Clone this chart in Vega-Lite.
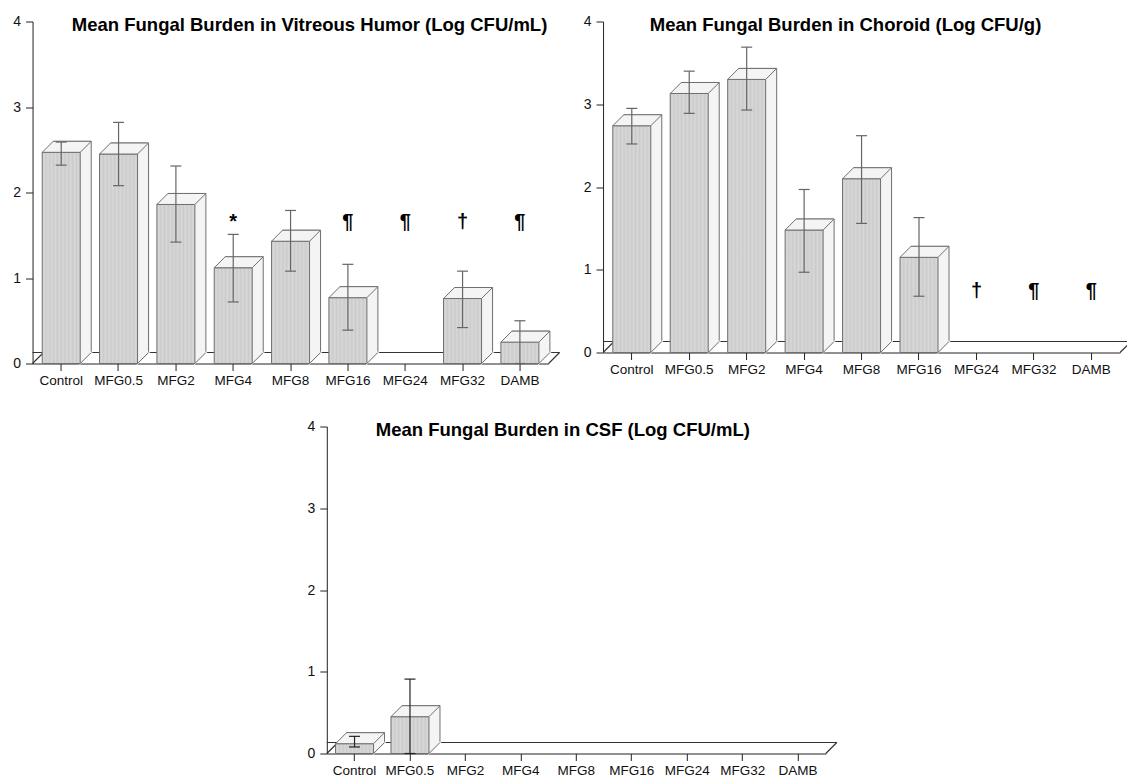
{
  "$schema": "https://vega.github.io/schema/vega-lite/v6.json",
  "padding": {"left": 12.5, "top": 14.5, "right": 0, "bottom": 0},
  "background": "#ffffff",
  "center": true,
  "spacing": 32,
  "config": {
    "view": {"stroke": null},
    "font": "Liberation Sans",
    "axis": {"labelFont": "Liberation Sans", "labelColor": "#111111", "domainColor": "#222222", "tickColor": "#222222", "grid": false},
    "axisX": {"labelAngle": 0, "labelFontSize": 13.5, "labelPadding": 3, "tickSize": 7},
    "axisY": {"labelFontSize": 14, "labelPadding": 5, "tickSize": 7, "tickCount": 4, "format": "d"},
    "scale": {"bandPaddingInner": 0.34, "bandPaddingOuter": 0.17},
    "title": {"font": "Liberation Sans", "fontSize": 18.5, "fontWeight": "bold", "color": "#000000", "anchor": "middle", "baseline": "alphabetic"}
  },
  "datasets": {
    "vit": [
      {"group": "Control", "mean": 2.47, "lo": 2.32, "hi": 2.59},
      {"group": "MFG0.5", "mean": 2.45, "lo": 2.08, "hi": 2.82},
      {"group": "MFG2", "mean": 1.86, "lo": 1.42, "hi": 2.31},
      {"group": "MFG4", "mean": 1.12, "lo": 0.72, "hi": 1.51, "sig": "*"},
      {"group": "MFG8", "mean": 1.43, "lo": 1.08, "hi": 1.79},
      {"group": "MFG16", "mean": 0.77, "lo": 0.39, "hi": 1.16, "sig": "¶"},
      {"group": "MFG24", "mean": 0, "sig": "¶"},
      {"group": "MFG32", "mean": 0.76, "lo": 0.42, "hi": 1.08, "sig": "†"},
      {"group": "DAMB", "mean": 0.25, "lo": 0, "hi": 0.5, "sig": "¶"}
    ],
    "cho": [
      {"group": "Control", "mean": 2.74, "lo": 2.52, "hi": 2.95},
      {"group": "MFG0.5", "mean": 3.13, "lo": 2.89, "hi": 3.40},
      {"group": "MFG2", "mean": 3.30, "lo": 2.93, "hi": 3.69},
      {"group": "MFG4", "mean": 1.48, "lo": 0.97, "hi": 1.97},
      {"group": "MFG8", "mean": 2.10, "lo": 1.56, "hi": 2.62},
      {"group": "MFG16", "mean": 1.15, "lo": 0.68, "hi": 1.63},
      {"group": "MFG24", "mean": 0, "sig": "†"},
      {"group": "MFG32", "mean": 0, "sig": "¶"},
      {"group": "DAMB", "mean": 0, "sig": "¶"}
    ],
    "csf": [
      {"group": "Control", "mean": 0.12, "lo": 0.08, "hi": 0.21},
      {"group": "MFG0.5", "mean": 0.45, "lo": 0, "hi": 0.91},
      {"group": "MFG2", "mean": 0},
      {"group": "MFG4", "mean": 0},
      {"group": "MFG8", "mean": 0},
      {"group": "MFG16", "mean": 0},
      {"group": "MFG24", "mean": 0},
      {"group": "MFG32", "mean": 0},
      {"group": "DAMB", "mean": 0}
    ]
  },
  "vconcat": [
    {
      "hconcat": [
        {
          "width": 516, "height": 342,
          "data": {"name": "vit"},
          "title": {"text": "Mean Fungal Burden in Vitreous Humor (Log CFU/mL)", "dx": 19, "offset": -19.5},
          "layer": [
            {"transform": [{"filter": "datum.group === 'Control'"}], "mark": {"type": "rule", "color": "#333333", "strokeWidth": 1.2, "xOffset": 11, "x2Offset": 11, "yOffset": -11}, "encoding": {"y": {"datum": 0, "type": "quantitative", "title": null, "scale": {"domain": [0, 4], "nice": false}}}},
            {"transform": [{"filter": "datum.group === 'Control'"}], "mark": {"type": "point", "shape": "M-28.7,0L-17.7,-11", "size": 4, "filled": false, "color": "#333333", "strokeWidth": 1.2, "opacity": 1}, "encoding": {"x": {"field": "group", "type": "nominal", "title": null, "scale": {"domain": ["Control", "MFG0.5", "MFG2", "MFG4", "MFG8", "MFG16", "MFG24", "MFG32", "DAMB"]}}, "y": {"datum": 0, "type": "quantitative", "title": null}}},
            {"transform": [{"filter": "datum.group === 'DAMB'"}], "mark": {"type": "point", "shape": "M28.7,0L39.7,-11", "size": 4, "filled": false, "color": "#333333", "strokeWidth": 1.2, "opacity": 1}, "encoding": {"x": {"field": "group", "type": "nominal", "title": null, "scale": {"domain": ["Control", "MFG0.5", "MFG2", "MFG4", "MFG8", "MFG16", "MFG24", "MFG32", "DAMB"]}}, "y": {"datum": 0, "type": "quantitative", "title": null}}},
            {"transform": [{"filter": "datum.mean > 0"}], "mark": {"type": "bar", "width": 38, "xOffset": 11, "yOffset": -11, "y2Offset": -11, "fill": "#f4f4f4", "stroke": "#707070", "strokeWidth": 1}, "encoding": {"x": {"field": "group", "type": "nominal", "title": null, "scale": {"domain": ["Control", "MFG0.5", "MFG2", "MFG4", "MFG8", "MFG16", "MFG24", "MFG32", "DAMB"]}}, "y": {"field": "mean", "type": "quantitative", "title": null}, "y2": {"datum": 0}}},
            {"transform": [{"filter": "datum.mean > 0"}], "mark": {"type": "point", "shape": "M19,0L30,-11L19,-11Z", "size": 4, "filled": true, "fill": "#f4f4f4", "stroke": "#f4f4f4", "strokeWidth": 1.6, "opacity": 1}, "encoding": {"x": {"field": "group", "type": "nominal", "title": null, "scale": {"domain": ["Control", "MFG0.5", "MFG2", "MFG4", "MFG8", "MFG16", "MFG24", "MFG32", "DAMB"]}}, "y": {"datum": 0, "type": "quantitative", "title": null}}},
            {"transform": [{"filter": "datum.mean > 0"}], "mark": {"type": "bar", "width": 38, "stroke": "#707070", "strokeWidth": 1, "fill": {"gradient": "linear", "x1": 0, "x2": 1, "y1": 0, "y2": 0, "stops": [{"offset": 0, "color": "#cbcbcb"}, {"offset": 0.05, "color": "#d8d8d8"}, {"offset": 0.1, "color": "#cbcbcb"}, {"offset": 0.15, "color": "#d8d8d8"}, {"offset": 0.2, "color": "#cbcbcb"}, {"offset": 0.25, "color": "#d8d8d8"}, {"offset": 0.3, "color": "#cbcbcb"}, {"offset": 0.35, "color": "#d8d8d8"}, {"offset": 0.4, "color": "#cbcbcb"}, {"offset": 0.45, "color": "#d8d8d8"}, {"offset": 0.5, "color": "#cbcbcb"}, {"offset": 0.55, "color": "#d8d8d8"}, {"offset": 0.6, "color": "#cbcbcb"}, {"offset": 0.65, "color": "#d8d8d8"}, {"offset": 0.7, "color": "#cbcbcb"}, {"offset": 0.75, "color": "#d8d8d8"}, {"offset": 0.8, "color": "#cbcbcb"}, {"offset": 0.85, "color": "#d8d8d8"}, {"offset": 0.9, "color": "#cbcbcb"}, {"offset": 0.95, "color": "#d8d8d8"}, {"offset": 1, "color": "#cbcbcb"}]}}, "encoding": {"x": {"field": "group", "type": "nominal", "title": null, "scale": {"domain": ["Control", "MFG0.5", "MFG2", "MFG4", "MFG8", "MFG16", "MFG24", "MFG32", "DAMB"]}}, "y": {"field": "mean", "type": "quantitative", "title": null}, "y2": {"datum": 0}}},
            {"transform": [{"filter": "datum.mean > 0"}], "mark": {"type": "point", "shape": "M-19,0L19,0L30,-11L-8,-11Z", "size": 4, "filled": true, "fill": "#f4f4f4", "stroke": "#707070", "strokeWidth": 1, "opacity": 1}, "encoding": {"x": {"field": "group", "type": "nominal", "title": null, "scale": {"domain": ["Control", "MFG0.5", "MFG2", "MFG4", "MFG8", "MFG16", "MFG24", "MFG32", "DAMB"]}}, "y": {"field": "mean", "type": "quantitative", "title": null}}},
            {"transform": [{"filter": "datum.mean > 0"}], "mark": {"type": "point", "shape": "M19,0L30,-11", "size": 4, "filled": false, "color": "#707070", "strokeWidth": 1, "opacity": 1}, "encoding": {"x": {"field": "group", "type": "nominal", "title": null, "scale": {"domain": ["Control", "MFG0.5", "MFG2", "MFG4", "MFG8", "MFG16", "MFG24", "MFG32", "DAMB"]}}, "y": {"datum": 0, "type": "quantitative", "title": null}}},
            {"transform": [{"filter": "isValid(datum.lo)"}], "mark": {"type": "rule", "color": "#666666", "strokeWidth": 1.2}, "encoding": {"x": {"field": "group", "type": "nominal", "title": null, "scale": {"domain": ["Control", "MFG0.5", "MFG2", "MFG4", "MFG8", "MFG16", "MFG24", "MFG32", "DAMB"]}}, "y": {"field": "lo", "type": "quantitative", "title": null}, "y2": {"field": "hi"}}},
            {"transform": [{"filter": "isValid(datum.lo)"}], "mark": {"type": "tick", "color": "#666666", "size": 11, "thickness": 1.2, "opacity": 1}, "encoding": {"x": {"field": "group", "type": "nominal", "title": null, "scale": {"domain": ["Control", "MFG0.5", "MFG2", "MFG4", "MFG8", "MFG16", "MFG24", "MFG32", "DAMB"]}}, "y": {"field": "lo", "type": "quantitative", "title": null}}},
            {"transform": [{"filter": "isValid(datum.hi)"}], "mark": {"type": "tick", "color": "#666666", "size": 11, "thickness": 1.2, "opacity": 1}, "encoding": {"x": {"field": "group", "type": "nominal", "title": null, "scale": {"domain": ["Control", "MFG0.5", "MFG2", "MFG4", "MFG8", "MFG16", "MFG24", "MFG32", "DAMB"]}}, "y": {"field": "hi", "type": "quantitative", "title": null}}},
            {"transform": [{"filter": "isValid(datum.sig)"}], "mark": {"type": "text", "fontSize": 20, "font": "Liberation Sans", "fontWeight": "bold", "baseline": "alphabetic", "color": "#000000"}, "encoding": {"x": {"field": "group", "type": "nominal", "title": null, "scale": {"domain": ["Control", "MFG0.5", "MFG2", "MFG4", "MFG8", "MFG16", "MFG24", "MFG32", "DAMB"]}}, "y": {"datum": 1.58, "type": "quantitative", "title": null}, "text": {"field": "sig"}}}
          ]
        },
        {
          "width": 517, "height": 331,
          "data": {"name": "cho"},
          "title": {"text": "Mean Fungal Burden in Choroid (Log CFU/g)", "dx": -16, "offset": -19.5},
          "layer": [
            {"transform": [{"filter": "datum.group === 'Control'"}], "mark": {"type": "rule", "color": "#333333", "strokeWidth": 1.2, "xOffset": 11, "x2Offset": 11, "yOffset": -11}, "encoding": {"y": {"datum": 0, "type": "quantitative", "title": null, "scale": {"domain": [0, 4], "nice": false}}}},
            {"transform": [{"filter": "datum.group === 'Control'"}], "mark": {"type": "point", "shape": "M-28.7,0L-17.7,-11", "size": 4, "filled": false, "color": "#333333", "strokeWidth": 1.2, "opacity": 1}, "encoding": {"x": {"field": "group", "type": "nominal", "title": null, "scale": {"domain": ["Control", "MFG0.5", "MFG2", "MFG4", "MFG8", "MFG16", "MFG24", "MFG32", "DAMB"]}}, "y": {"datum": 0, "type": "quantitative", "title": null}}},
            {"transform": [{"filter": "datum.group === 'DAMB'"}], "mark": {"type": "point", "shape": "M28.7,0L39.7,-11", "size": 4, "filled": false, "color": "#333333", "strokeWidth": 1.2, "opacity": 1}, "encoding": {"x": {"field": "group", "type": "nominal", "title": null, "scale": {"domain": ["Control", "MFG0.5", "MFG2", "MFG4", "MFG8", "MFG16", "MFG24", "MFG32", "DAMB"]}}, "y": {"datum": 0, "type": "quantitative", "title": null}}},
            {"transform": [{"filter": "datum.mean > 0"}], "mark": {"type": "bar", "width": 38, "xOffset": 11, "yOffset": -11, "y2Offset": -11, "fill": "#f4f4f4", "stroke": "#707070", "strokeWidth": 1}, "encoding": {"x": {"field": "group", "type": "nominal", "title": null, "scale": {"domain": ["Control", "MFG0.5", "MFG2", "MFG4", "MFG8", "MFG16", "MFG24", "MFG32", "DAMB"]}}, "y": {"field": "mean", "type": "quantitative", "title": null}, "y2": {"datum": 0}}},
            {"transform": [{"filter": "datum.mean > 0"}], "mark": {"type": "point", "shape": "M19,0L30,-11L19,-11Z", "size": 4, "filled": true, "fill": "#f4f4f4", "stroke": "#f4f4f4", "strokeWidth": 1.6, "opacity": 1}, "encoding": {"x": {"field": "group", "type": "nominal", "title": null, "scale": {"domain": ["Control", "MFG0.5", "MFG2", "MFG4", "MFG8", "MFG16", "MFG24", "MFG32", "DAMB"]}}, "y": {"datum": 0, "type": "quantitative", "title": null}}},
            {"transform": [{"filter": "datum.mean > 0"}], "mark": {"type": "bar", "width": 38, "stroke": "#707070", "strokeWidth": 1, "fill": {"gradient": "linear", "x1": 0, "x2": 1, "y1": 0, "y2": 0, "stops": [{"offset": 0, "color": "#cbcbcb"}, {"offset": 0.05, "color": "#d8d8d8"}, {"offset": 0.1, "color": "#cbcbcb"}, {"offset": 0.15, "color": "#d8d8d8"}, {"offset": 0.2, "color": "#cbcbcb"}, {"offset": 0.25, "color": "#d8d8d8"}, {"offset": 0.3, "color": "#cbcbcb"}, {"offset": 0.35, "color": "#d8d8d8"}, {"offset": 0.4, "color": "#cbcbcb"}, {"offset": 0.45, "color": "#d8d8d8"}, {"offset": 0.5, "color": "#cbcbcb"}, {"offset": 0.55, "color": "#d8d8d8"}, {"offset": 0.6, "color": "#cbcbcb"}, {"offset": 0.65, "color": "#d8d8d8"}, {"offset": 0.7, "color": "#cbcbcb"}, {"offset": 0.75, "color": "#d8d8d8"}, {"offset": 0.8, "color": "#cbcbcb"}, {"offset": 0.85, "color": "#d8d8d8"}, {"offset": 0.9, "color": "#cbcbcb"}, {"offset": 0.95, "color": "#d8d8d8"}, {"offset": 1, "color": "#cbcbcb"}]}}, "encoding": {"x": {"field": "group", "type": "nominal", "title": null, "scale": {"domain": ["Control", "MFG0.5", "MFG2", "MFG4", "MFG8", "MFG16", "MFG24", "MFG32", "DAMB"]}}, "y": {"field": "mean", "type": "quantitative", "title": null}, "y2": {"datum": 0}}},
            {"transform": [{"filter": "datum.mean > 0"}], "mark": {"type": "point", "shape": "M-19,0L19,0L30,-11L-8,-11Z", "size": 4, "filled": true, "fill": "#f4f4f4", "stroke": "#707070", "strokeWidth": 1, "opacity": 1}, "encoding": {"x": {"field": "group", "type": "nominal", "title": null, "scale": {"domain": ["Control", "MFG0.5", "MFG2", "MFG4", "MFG8", "MFG16", "MFG24", "MFG32", "DAMB"]}}, "y": {"field": "mean", "type": "quantitative", "title": null}}},
            {"transform": [{"filter": "datum.mean > 0"}], "mark": {"type": "point", "shape": "M19,0L30,-11", "size": 4, "filled": false, "color": "#707070", "strokeWidth": 1, "opacity": 1}, "encoding": {"x": {"field": "group", "type": "nominal", "title": null, "scale": {"domain": ["Control", "MFG0.5", "MFG2", "MFG4", "MFG8", "MFG16", "MFG24", "MFG32", "DAMB"]}}, "y": {"datum": 0, "type": "quantitative", "title": null}}},
            {"transform": [{"filter": "isValid(datum.lo)"}], "mark": {"type": "rule", "color": "#666666", "strokeWidth": 1.2}, "encoding": {"x": {"field": "group", "type": "nominal", "title": null, "scale": {"domain": ["Control", "MFG0.5", "MFG2", "MFG4", "MFG8", "MFG16", "MFG24", "MFG32", "DAMB"]}}, "y": {"field": "lo", "type": "quantitative", "title": null}, "y2": {"field": "hi"}}},
            {"transform": [{"filter": "isValid(datum.lo)"}], "mark": {"type": "tick", "color": "#666666", "size": 11, "thickness": 1.2, "opacity": 1}, "encoding": {"x": {"field": "group", "type": "nominal", "title": null, "scale": {"domain": ["Control", "MFG0.5", "MFG2", "MFG4", "MFG8", "MFG16", "MFG24", "MFG32", "DAMB"]}}, "y": {"field": "lo", "type": "quantitative", "title": null}}},
            {"transform": [{"filter": "isValid(datum.hi)"}], "mark": {"type": "tick", "color": "#666666", "size": 11, "thickness": 1.2, "opacity": 1}, "encoding": {"x": {"field": "group", "type": "nominal", "title": null, "scale": {"domain": ["Control", "MFG0.5", "MFG2", "MFG4", "MFG8", "MFG16", "MFG24", "MFG32", "DAMB"]}}, "y": {"field": "hi", "type": "quantitative", "title": null}}},
            {"transform": [{"filter": "isValid(datum.sig)"}], "mark": {"type": "text", "fontSize": 20, "font": "Liberation Sans", "fontWeight": "bold", "baseline": "alphabetic", "color": "#000000"}, "encoding": {"x": {"field": "group", "type": "nominal", "title": null, "scale": {"domain": ["Control", "MFG0.5", "MFG2", "MFG4", "MFG8", "MFG16", "MFG24", "MFG32", "DAMB"]}}, "y": {"datum": 0.67, "type": "quantitative", "title": null}, "text": {"field": "sig"}}}
          ]
        }
      ],
      "spacing": 54.5,
      "bounds": "flush"
    },
    {
      "width": 499, "height": 327,
      "data": {"name": "csf"},
      "title": {"text": "Mean Fungal Burden in CSF (Log CFU/mL)", "dx": -13.5, "offset": -19.5},
      "layer": [
        {"transform": [{"filter": "datum.group === 'Control'"}], "mark": {"type": "rule", "color": "#333333", "strokeWidth": 1.2, "xOffset": 11, "x2Offset": 11, "yOffset": -11}, "encoding": {"y": {"datum": 0, "type": "quantitative", "title": null, "scale": {"domain": [0, 4], "nice": false}}}},
        {"transform": [{"filter": "datum.group === 'Control'"}], "mark": {"type": "point", "shape": "M-27.7,0L-16.7,-11", "size": 4, "filled": false, "color": "#333333", "strokeWidth": 1.2, "opacity": 1}, "encoding": {"x": {"field": "group", "type": "nominal", "title": null, "scale": {"domain": ["Control", "MFG0.5", "MFG2", "MFG4", "MFG8", "MFG16", "MFG24", "MFG32", "DAMB"]}}, "y": {"datum": 0, "type": "quantitative", "title": null}}},
        {"transform": [{"filter": "datum.group === 'DAMB'"}], "mark": {"type": "point", "shape": "M27.7,0L38.7,-11", "size": 4, "filled": false, "color": "#333333", "strokeWidth": 1.2, "opacity": 1}, "encoding": {"x": {"field": "group", "type": "nominal", "title": null, "scale": {"domain": ["Control", "MFG0.5", "MFG2", "MFG4", "MFG8", "MFG16", "MFG24", "MFG32", "DAMB"]}}, "y": {"datum": 0, "type": "quantitative", "title": null}}},
        {"transform": [{"filter": "datum.mean > 0"}], "mark": {"type": "bar", "width": 38, "xOffset": 11, "yOffset": -11, "y2Offset": -11, "fill": "#f4f4f4", "stroke": "#707070", "strokeWidth": 1}, "encoding": {"x": {"field": "group", "type": "nominal", "title": null, "scale": {"domain": ["Control", "MFG0.5", "MFG2", "MFG4", "MFG8", "MFG16", "MFG24", "MFG32", "DAMB"]}}, "y": {"field": "mean", "type": "quantitative", "title": null}, "y2": {"datum": 0}}},
        {"transform": [{"filter": "datum.mean > 0"}], "mark": {"type": "point", "shape": "M19,0L30,-11L19,-11Z", "size": 4, "filled": true, "fill": "#f4f4f4", "stroke": "#f4f4f4", "strokeWidth": 1.6, "opacity": 1}, "encoding": {"x": {"field": "group", "type": "nominal", "title": null, "scale": {"domain": ["Control", "MFG0.5", "MFG2", "MFG4", "MFG8", "MFG16", "MFG24", "MFG32", "DAMB"]}}, "y": {"datum": 0, "type": "quantitative", "title": null}}},
        {"transform": [{"filter": "datum.mean > 0"}], "mark": {"type": "bar", "width": 38, "stroke": "#707070", "strokeWidth": 1, "fill": {"gradient": "linear", "x1": 0, "x2": 1, "y1": 0, "y2": 0, "stops": [{"offset": 0, "color": "#cbcbcb"}, {"offset": 0.05, "color": "#d8d8d8"}, {"offset": 0.1, "color": "#cbcbcb"}, {"offset": 0.15, "color": "#d8d8d8"}, {"offset": 0.2, "color": "#cbcbcb"}, {"offset": 0.25, "color": "#d8d8d8"}, {"offset": 0.3, "color": "#cbcbcb"}, {"offset": 0.35, "color": "#d8d8d8"}, {"offset": 0.4, "color": "#cbcbcb"}, {"offset": 0.45, "color": "#d8d8d8"}, {"offset": 0.5, "color": "#cbcbcb"}, {"offset": 0.55, "color": "#d8d8d8"}, {"offset": 0.6, "color": "#cbcbcb"}, {"offset": 0.65, "color": "#d8d8d8"}, {"offset": 0.7, "color": "#cbcbcb"}, {"offset": 0.75, "color": "#d8d8d8"}, {"offset": 0.8, "color": "#cbcbcb"}, {"offset": 0.85, "color": "#d8d8d8"}, {"offset": 0.9, "color": "#cbcbcb"}, {"offset": 0.95, "color": "#d8d8d8"}, {"offset": 1, "color": "#cbcbcb"}]}}, "encoding": {"x": {"field": "group", "type": "nominal", "title": null, "scale": {"domain": ["Control", "MFG0.5", "MFG2", "MFG4", "MFG8", "MFG16", "MFG24", "MFG32", "DAMB"]}}, "y": {"field": "mean", "type": "quantitative", "title": null}, "y2": {"datum": 0}}},
        {"transform": [{"filter": "datum.mean > 0"}], "mark": {"type": "point", "shape": "M-19,0L19,0L30,-11L-8,-11Z", "size": 4, "filled": true, "fill": "#f4f4f4", "stroke": "#707070", "strokeWidth": 1, "opacity": 1}, "encoding": {"x": {"field": "group", "type": "nominal", "title": null, "scale": {"domain": ["Control", "MFG0.5", "MFG2", "MFG4", "MFG8", "MFG16", "MFG24", "MFG32", "DAMB"]}}, "y": {"field": "mean", "type": "quantitative", "title": null}}},
        {"transform": [{"filter": "datum.mean > 0"}], "mark": {"type": "point", "shape": "M19,0L30,-11", "size": 4, "filled": false, "color": "#707070", "strokeWidth": 1, "opacity": 1}, "encoding": {"x": {"field": "group", "type": "nominal", "title": null, "scale": {"domain": ["Control", "MFG0.5", "MFG2", "MFG4", "MFG8", "MFG16", "MFG24", "MFG32", "DAMB"]}}, "y": {"datum": 0, "type": "quantitative", "title": null}}},
        {"transform": [{"filter": "isValid(datum.lo)"}], "mark": {"type": "rule", "color": "#222222", "strokeWidth": 1.2}, "encoding": {"x": {"field": "group", "type": "nominal", "title": null, "scale": {"domain": ["Control", "MFG0.5", "MFG2", "MFG4", "MFG8", "MFG16", "MFG24", "MFG32", "DAMB"]}}, "y": {"field": "lo", "type": "quantitative", "title": null}, "y2": {"field": "hi"}}},
        {"transform": [{"filter": "isValid(datum.lo)"}], "mark": {"type": "tick", "color": "#222222", "size": 11, "thickness": 1.2, "opacity": 1}, "encoding": {"x": {"field": "group", "type": "nominal", "title": null, "scale": {"domain": ["Control", "MFG0.5", "MFG2", "MFG4", "MFG8", "MFG16", "MFG24", "MFG32", "DAMB"]}}, "y": {"field": "lo", "type": "quantitative", "title": null}}},
        {"transform": [{"filter": "isValid(datum.hi)"}], "mark": {"type": "tick", "color": "#222222", "size": 11, "thickness": 1.2, "opacity": 1}, "encoding": {"x": {"field": "group", "type": "nominal", "title": null, "scale": {"domain": ["Control", "MFG0.5", "MFG2", "MFG4", "MFG8", "MFG16", "MFG24", "MFG32", "DAMB"]}}, "y": {"field": "hi", "type": "quantitative", "title": null}}}
      ]
    }
  ]
}
